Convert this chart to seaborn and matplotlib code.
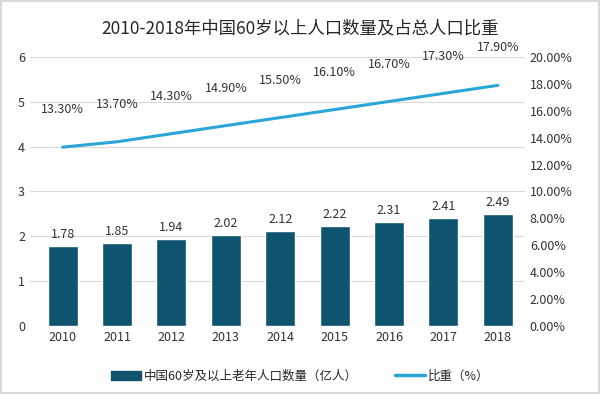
import numpy as np
import pandas as pd
import matplotlib
matplotlib.use("Agg")
import matplotlib.pyplot as plt
import seaborn as sns
from matplotlib.patches import Patch
from matplotlib.lines import Line2D

years = ["2010", "2011", "2012", "2013", "2014", "2015", "2016", "2017", "2018"]
population = [1.78, 1.85, 1.94, 2.02, 2.12, 2.22, 2.31, 2.41, 2.49]
share = [13.30, 13.70, 14.30, 14.90, 15.50, 16.10, 16.70, 17.30, 17.90]

bar_color = "#0f546f"
line_color = "#2aa6d6"

sns.set_theme(style="white")
plt.rcParams["font.family"] = ["Noto Sans CJK SC", "DejaVu Sans"]

df = pd.DataFrame({"year": years, "pop": population, "share": share})
df["pos"] = np.arange(len(years))

fig = plt.figure(figsize=(6, 3.94), dpi=100)
fig.patch.set_edgecolor("#d9d9d9")
fig.patch.set_linewidth(1.5)
ax = fig.add_axes([0.05, 0.173, 0.825, 0.682])

sns.barplot(data=df, x="year", y="pop", color=bar_color, width=0.55,
            saturation=1, ax=ax)
ax.set_ylim(0, 6)
ax.set_yticks(range(0, 7))
ax.grid(axis="y", color="#d9d9d9", linewidth=0.8)
ax.set_axisbelow(True)
for s in ax.spines.values():
    s.set_visible(False)
ax.set_xlabel("")
ax.set_ylabel("")
ax.tick_params(axis="both", length=0, labelsize=9, colors="#333333")
ax.set_xlim(-0.6, 8.5)
for p, v in zip(ax.patches, population):
    ax.text(p.get_x() + p.get_width() / 2, v + 0.12, f"{v:.2f}",
            ha="center", va="bottom", fontsize=9, color="#333333")

ax2 = ax.twinx()
sns.lineplot(data=df, x="pos", y="share", color=line_color, linewidth=2.2,
             ax=ax2)
ax2.set_ylim(0, 20)
ax2.set_yticks(np.arange(0, 21, 2))
ax2.set_yticklabels([f"{t:.2f}%" for t in np.arange(0, 21, 2)])
for s in ax2.spines.values():
    s.set_visible(False)
ax2.set_xlabel("")
ax2.set_ylabel("")
ax2.tick_params(axis="both", length=0, labelsize=9, colors="#333333")
for x, v in zip(df["pos"], share):
    ax2.text(x, v + 2.3, f"{v:.2f}%", ha="center", va="bottom",
             fontsize=9, color="#333333")

fig.suptitle("2010-2018年中国60岁以上人口数量及占总人口比重", y=0.95,
             fontsize=12.5, color="#262626")

handles = [Patch(color=bar_color), Line2D([0], [0], color=line_color, lw=2.5)]
labels = ["中国60岁及以上老年人口数量（亿人）", "比重（%）"]
fig.legend(handles, labels, loc="lower center", bbox_to_anchor=(0.5, 0.0),
           ncol=2, frameon=False, fontsize=9, columnspacing=3,
           handlelength=2.4, handletextpad=0.2)

fig.savefig("out.png", dpi=100)
